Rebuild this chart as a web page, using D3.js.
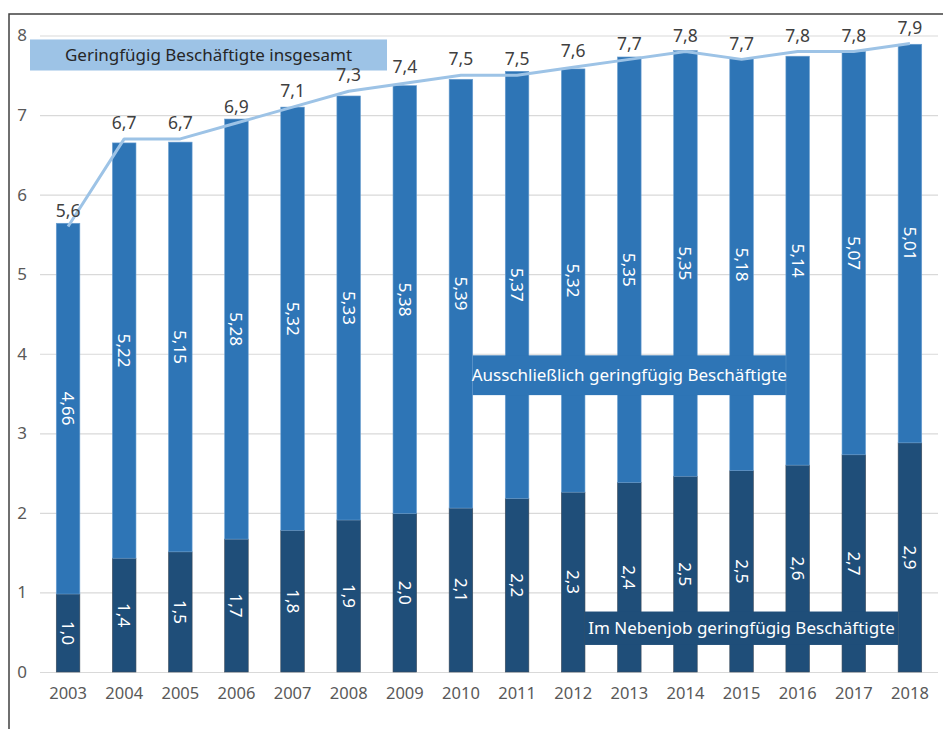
<!DOCTYPE html>
<html>
<head>
<meta charset="utf-8">
<script src="https://cdn.jsdelivr.net/npm/d3@7"></script>
<style>
  body { margin: 0; background: #fff; }
  text { font-family: "Noto Sans", "Open Sans", sans-serif; }
</style>
</head>
<body>
<script>
// data (millions)
var years = ['2003','2004','2005','2006','2007','2008','2009','2010','2011','2012','2013','2014','2015','2016','2017','2018'];
var nebenjob = [0.98, 1.43, 1.51, 1.67, 1.78, 1.91, 1.99, 2.06, 2.18, 2.26, 2.38, 2.46, 2.53, 2.60, 2.73, 2.88];
var ausschl = [4.66, 5.22, 5.15, 5.28, 5.32, 5.33, 5.38, 5.39, 5.37, 5.32, 5.35, 5.35, 5.18, 5.14, 5.07, 5.01];
var insgesamt = [5.6, 6.7, 6.7, 6.9, 7.1, 7.3, 7.4, 7.5, 7.5, 7.6, 7.7, 7.8, 7.7, 7.8, 7.8, 7.9];
var yTicks = [0, 1, 2, 3, 4, 5, 6, 7, 8];

var W = 943, H = 729;
var margin = { top: 35.5, right: 5, bottom: 57, left: 40 };
var width = W - margin.left - margin.right;
var height = H - margin.top - margin.bottom;

var cDark = '#1f4e79', cMid = '#2e75b6', cLight = '#9dc3e6';
var fmt1 = function(v) { return d3.format('.1f')(v).replace('.', ','); };
var fmt2 = function(v) { return d3.format('.2f')(v).replace('.', ','); };

var svg = d3.select('body').append('svg')
	.attr('width', W)
	.attr('height', H);

// frame (only left and top visible)
svg.append('path')
	.attr('d', `M9,${H} L9,14 L${W},14`)
	.attr('fill', 'none')
	.attr('stroke', '#404040')
	.attr('stroke-width', 1.5);

var g = svg.append('g')
	.attr('transform', `translate(${margin.left}, ${margin.top})`);

var x = d3.scaleBand().domain(years).range([0, width]).paddingInner(0.58).paddingOuter(0.29);
var y = d3.scaleLinear().domain([0, 8]).range([height, 0]);

// gridlines
g.append('g')
	.call(d3.axisLeft(y).tickValues(yTicks).tickSize(-width).tickFormat(''))
	.call(function(s) { s.select('.domain').remove(); })
	.selectAll('line')
	.attr('stroke', '#d9d9d9')
	.attr('stroke-width', 1.2);

// y axis labels
g.append('g')
	.call(d3.axisLeft(y).tickValues(yTicks).tickSize(0).tickPadding(18).tickFormat(d3.format('d')))
	.call(function(s) { s.select('.domain').remove(); })
	.selectAll('text')
	.attr('text-anchor', 'middle')
	.attr('fill', '#595959')
	.style('font-size', '17px');

// x axis labels
g.append('g')
	.attr('transform', `translate(0, ${height})`)
	.call(d3.axisBottom(x).tickSize(0).tickPadding(15))
	.call(function(s) { s.select('.domain').remove(); })
	.selectAll('text')
	.attr('fill', '#595959')
	.style('font-size', '16.5px');

var rows = years.map(function(yr, i) {
	return { yr: yr, a: nebenjob[i], b: ausschl[i], t: insgesamt[i] };
});

// bottom segments
g.selectAll('.bar-neben').data(rows).enter().append('rect')
	.attr('class', 'bar-neben')
	.attr('x', function(d) { return x(d.yr); })
	.attr('width', x.bandwidth())
	.attr('y', function(d) { return y(d.a); })
	.attr('height', function(d) { return y(0) - y(d.a); })
	.attr('fill', cDark)
	.attr('stroke', '#3a4a5a')
	.attr('stroke-width', 0.6);

// upper segments
g.selectAll('.bar-aus').data(rows).enter().append('rect')
	.attr('class', 'bar-aus')
	.attr('x', function(d) { return x(d.yr); })
	.attr('width', x.bandwidth())
	.attr('y', function(d) { return y(d.a + d.b); })
	.attr('height', function(d) { return y(d.a) - y(d.a + d.b); })
	.attr('fill', cMid)
	.attr('stroke', '#6c9fd0')
	.attr('stroke-width', 0.6);

// series name boxes
var boxAus = g.append('g');
boxAus.append('rect')
	.attr('x', x('2010') + x.bandwidth())
	.attr('width', x('2016') - x('2010') - x.bandwidth())
	.attr('y', y(3.98))
	.attr('height', y(3.48) - y(3.98))
	.attr('fill', cMid);
boxAus.append('text')
	.attr('x', (x('2010') + x('2016') + x.bandwidth()) / 2)
	.attr('y', y(3.73))
	.attr('dy', '0.35em')
	.attr('text-anchor', 'middle')
	.attr('fill', '#fff')
	.style('font-size', '17px')
	.text('Ausschließlich geringfügig Beschäftigte');

var boxNeb = g.append('g');
boxNeb.append('rect')
	.attr('x', x('2012') + x.bandwidth())
	.attr('width', x('2018') - x('2012') - x.bandwidth())
	.attr('y', y(0.76))
	.attr('height', y(0.34) - y(0.76))
	.attr('fill', cDark);
boxNeb.append('text')
	.attr('x', (x('2012') + x('2018') + x.bandwidth()) / 2)
	.attr('y', y(0.55))
	.attr('dy', '0.35em')
	.attr('text-anchor', 'middle')
	.attr('fill', '#fff')
	.style('font-size', '17px')
	.text('Im Nebenjob geringfügig Beschäftigte');

// total line
var line = d3.line()
	.x(function(d) { return x(d.yr) + x.bandwidth() / 2; })
	.y(function(d) { return y(d.t); });

g.append('path')
	.datum(rows)
	.attr('fill', 'none')
	.attr('stroke', cLight)
	.attr('stroke-width', 3)
	.attr('stroke-linejoin', 'round')
	.attr('d', line);

var boxTot = g.append('g');
boxTot.append('rect')
	.attr('x', 30 - margin.left)
	.attr('width', 357)
	.attr('y', y(7.95))
	.attr('height', y(7.56) - y(7.95))
	.attr('fill', cLight);
boxTot.append('text')
	.attr('x', 30 - margin.left + 357 / 2)
	.attr('y', y(7.755))
	.attr('dy', '0.35em')
	.attr('text-anchor', 'middle')
	.attr('fill', '#262626')
	.style('font-size', '17px')
	.text('Geringfügig Beschäftigte insgesamt');

// total labels
g.selectAll('.lbl-tot').data(rows).enter().append('text')
	.attr('class', 'lbl-tot')
	.attr('x', function(d) { return x(d.yr) + x.bandwidth() / 2; })
	.attr('y', function(d) { return y(d.t) - 16; })
	.attr('dy', '0.35em')
	.attr('text-anchor', 'middle')
	.attr('fill', '#404040')
	.style('font-size', '17.5px')
	.text(function(d) { return fmt1(d.t); });

// rotated segment labels
function segLabel(cls, mid, txt) {
	g.selectAll('.' + cls).data(rows).enter().append('text')
		.attr('class', cls)
		.attr('transform', function(d) {
			return `translate(${x(d.yr) + x.bandwidth() / 2}, ${y(mid(d))}) rotate(90)`;
		})
		.attr('dy', '0.35em')
		.attr('text-anchor', 'middle')
		.attr('fill', '#fff')
		.style('font-size', '17px')
		.text(txt);
}
segLabel('lbl-neb', function(d) { return d.a / 2; }, function(d) { return fmt1(d.a); });
segLabel('lbl-aus', function(d) { return d.a + d.b / 2; }, function(d) { return fmt2(d.b); });
</script>
</body>
</html>
